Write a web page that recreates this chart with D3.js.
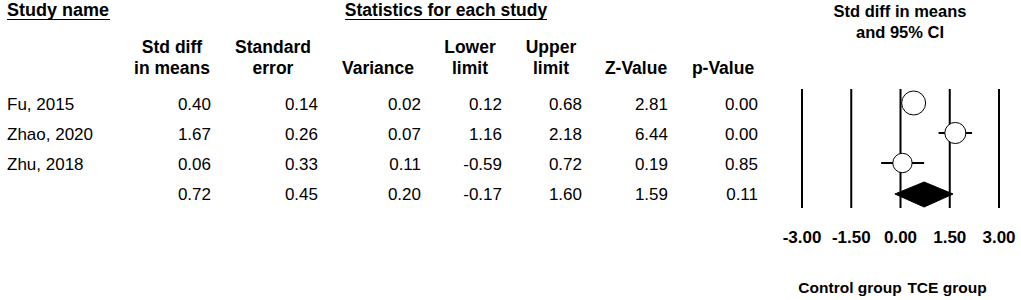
<!DOCTYPE html>
<html>
<head>
<meta charset="utf-8">
<script src="https://cdn.jsdelivr.net/npm/d3@7"></script>
<style>
body { margin: 0; background: #fff; }
text { font-family: "Liberation Sans", Arial, sans-serif; fill: #000; }
</style>
</head>
<body>
<div id="chart"></div>
<script>
// data
var studies = ['Fu, 2015', 'Zhao, 2020', 'Zhu, 2018', ''];
var stdDiff = [0.40, 1.67, 0.06, 0.72];
var stdErr = [0.14, 0.26, 0.33, 0.45];
var variance = [0.02, 0.07, 0.11, 0.20];
var lower = [0.12, 1.16, -0.59, -0.17];
var upper = [0.68, 2.18, 0.72, 1.60];
var zValue = [2.81, 6.44, 0.19, 1.59];
var pValue = [0.00, 0.00, 0.85, 0.11];
var colHeads = [['Std diff', 'in means'], ['Standard', 'error'], ['', 'Variance'], ['Lower', 'limit'], ['Upper', 'limit'], ['', 'Z-Value'], ['', 'p-Value']];
var ticks = [-3, -1.5, 0, 1.5, 3];

var W = 1021, H = 300;
var fmt = function(v) { return d3.format('.2f')(v).replace('\u2212', '-'); };

var svg = d3.select('#chart').append('svg')
	.attr('width', W)
	.attr('height', H);

// header
svg.append('text')
	.attr('x', 7).attr('y', 16)
	.style('font-size', '18px').style('font-weight', 'bold')
	.text('Study name');
svg.append('line').attr('x1', 7).attr('x2', 110).attr('y1', 19.5).attr('y2', 19.5)
	.attr('stroke', '#000').attr('stroke-width', 1);
svg.append('text')
	.attr('x', 446).attr('y', 16).attr('text-anchor', 'middle')
	.style('font-size', '17.5px').style('font-weight', 'bold')
	.text('Statistics for each study');
svg.append('line').attr('x1', 345).attr('x2', 547).attr('y1', 19.5).attr('y2', 19.5)
	.attr('stroke', '#000').attr('stroke-width', 1);

var colMid = [172, 273, 378, 470, 551, 636, 723];
var colRight = [211, 318, 421, 502, 582, 668, 758];
var cols = [stdDiff, stdErr, variance, lower, upper, zValue, pValue];

colHeads.forEach(function(h, i) {
	h.forEach(function(line, j) {
		svg.append('text')
			.attr('x', colMid[i]).attr('y', 53 + j * 21)
			.attr('text-anchor', 'middle')
			.style('font-size', '17.5px').style('font-weight', 'bold')
			.text(line);
	});
});

var rowY = d3.scalePoint().domain(d3.range(studies.length)).range([103, 193]);

studies.forEach(function(s, i) {
	svg.append('text')
		.attr('x', 7).attr('y', rowY(i) + 7)
		.style('font-size', '17px')
		.text(s);
	cols.forEach(function(c, k) {
		svg.append('text')
			.attr('x', colRight[k]).attr('y', rowY(i) + 7)
			.attr('text-anchor', 'end')
			.style('font-size', '17px')
			.text(fmt(c[i]));
	});
});

// forest plot
var x = d3.scaleLinear().domain([-3, 3]).range([802, 999]);
var rScale = d3.scaleLinear().domain([0.14, 0.33]).range([12, 9.7]);

svg.append('text').attr('x', 900).attr('y', 17).attr('text-anchor', 'middle')
	.style('font-size', '16.5px').style('font-weight', 'bold')
	.text('Std diff in means');
svg.append('text').attr('x', 900).attr('y', 38).attr('text-anchor', 'middle')
	.style('font-size', '16.5px').style('font-weight', 'bold')
	.text('and 95% CI');

svg.selectAll('.vline').data(ticks).enter().append('line')
	.attr('x1', function(d) { return x(d); }).attr('x2', function(d) { return x(d); })
	.attr('y1', 89).attr('y2', 208)
	.attr('stroke', '#000').attr('stroke-width', 2);

svg.selectAll('.tlab').data(ticks).enter().append('text')
	.attr('x', function(d) { return x(d); }).attr('y', 243)
	.attr('text-anchor', 'middle')
	.style('font-size', '17px').style('font-weight', 'bold')
	.text(function(d) { return fmt(d); });

svg.append('text').attr('x', 850).attr('y', 293).attr('text-anchor', 'middle')
	.style('font-size', '15.5px').style('font-weight', 'bold')
	.text('Control group');
svg.append('text').attr('x', 947).attr('y', 293).attr('text-anchor', 'middle')
	.style('font-size', '15.5px').style('font-weight', 'bold')
	.text('TCE group');

for (var i = 0; i < 3; i++) {
	svg.append('line')
		.attr('x1', x(lower[i])).attr('x2', x(upper[i]))
		.attr('y1', rowY(i)).attr('y2', rowY(i))
		.attr('stroke', '#000').attr('stroke-width', 2);
	svg.append('circle')
		.attr('cx', x(stdDiff[i])).attr('cy', rowY(i))
		.attr('r', rScale(stdErr[i]))
		.attr('fill', '#fff').attr('stroke', '#000').attr('stroke-width', 1);
}

var yd = rowY(3) + 1;
var diamond = [[x(lower[3]), yd], [x(stdDiff[3]), yd - 12], [x(upper[3]), yd], [x(stdDiff[3]), yd + 13]];
svg.append('path')
	.attr('d', d3.line()(diamond) + 'Z')
	.attr('fill', '#000').attr('stroke', '#000');
</script>
</body>
</html>
